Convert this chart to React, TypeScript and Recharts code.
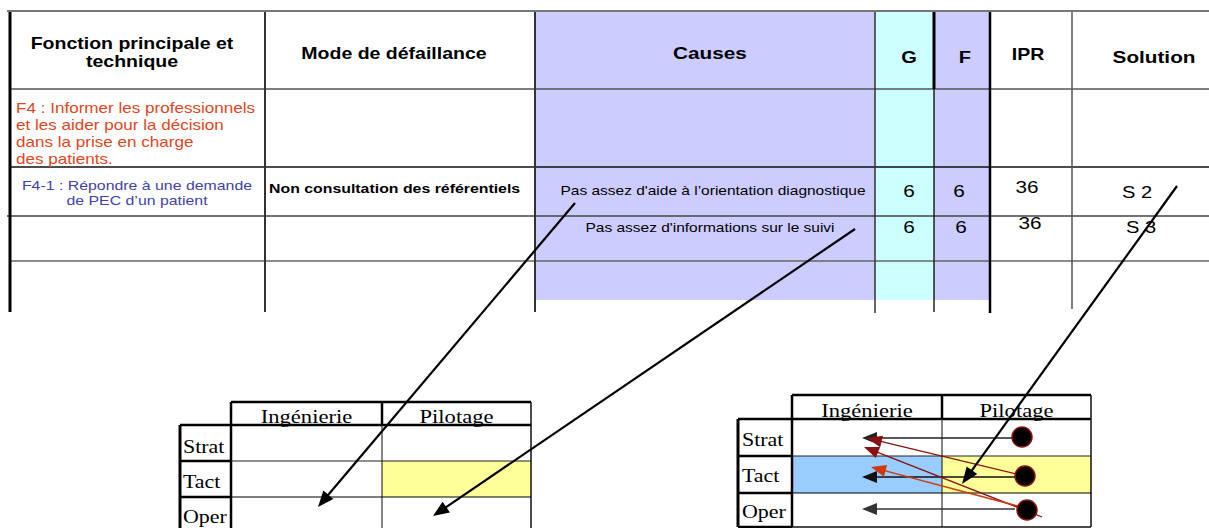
import { ComposedChart, XAxis, YAxis, Scatter, ReferenceArea, ReferenceLine, ReferenceDot } from "recharts";

// --- contenu du tableau AMDEC ---
const entetes = ["Fonction principale et\ntechnique", "Mode de défaillance", "Causes", "G", "F", "IPR", "Solution"];
const fonction = ["F4 : Informer les professionnels", "et les aider pour la décision", "dans la prise en charge", "des patients."];
const sousFonction = ["F4-1 : Répondre à une demande", "de PEC d’un patient"];
const modes = ["Non consultation des référentiels"];
const causes = ["Pas assez d'aide à l’orientation diagnostique", "Pas assez d'informations sur le suivi"];
const gravite = [6, 6];
const frequence = [6, 6];
const ipr = [36, 36];
const solutions = ["S 2", "S 3"];

// --- matrices ---
const niveaux = ["Strat", "Tact", "Oper"];
const axesMatrice = ["Ingénierie", "Pilotage"];
const casesGauche = [["Tact", "Pilotage"]];
const casesDroite = [["Tact", "Ingénierie"], ["Tact", "Pilotage"]];

// --- mise en page (pixels) ---
const W = 1209;
const H = 528;
const SANS = "'Liberation Sans', Arial, Helvetica, sans-serif";
const SERIF = "'Liberation Serif', 'Times New Roman', serif";
const colX = [10, 265, 535, 875, 934, 990, 1072, 1209];
const enteteAncre = [[132, 49], [394, 59], [710, 59], [909, 63], [965, 63], [1028, 60], [1154, 63]];
const enteteTaille = [16, 16, 17, 16.5, 16.5, 16, 17];

type Mat = { x: number[]; y: number[]; labelY: number[]; headY: number; labelX: number };
const matG: Mat = { x: [180, 231, 382, 531], y: [402, 425, 461, 497, 533], labelY: [453, 488, 523], headY: 423, labelX: 183 };
const matD: Mat = { x: [738, 792, 942, 1091], y: [395, 419, 456, 493, 527], labelY: [446, 482, 518], headY: 417, labelX: 742 };
const couleurAxe: Record<string, string> = { "Ingénierie": "#99ccff", "Pilotage": "#ffff99" };
const dotX = [1022, 1025, 1027];
const dotY = [437, 476, 510];

type Seg = [number, number, number, number, number, string];
const lignesTableau: Seg[] = [
  [7, 11, 1209, 11, 2, "#777"],
  [10, 89, 1209, 89, 1.5, "#555"],
  [10, 167, 1209, 167, 1.5, "#111"],
  [7, 216, 1209, 216, 1.5, "#444"],
  [10, 261, 1209, 261, 1.5, "#666"],
  [10, 12, 10, 312, 3, "#000"],
  [265, 12, 265, 312, 2, "#333"],
  [535, 12, 535, 312, 2, "#333"],
  [875, 12, 875, 313, 1.5, "#333"],
  [934, 12, 934, 89, 3, "#000"],
  [934, 89, 934, 312, 1.5, "#222"],
  [990, 12, 990, 313, 2.5, "#000"],
  [1072, 12, 1072, 309, 1.5, "#555"],
];

type Arrow = [number, number, number, number, string, number, number, number];
const fleches: Arrow[] = [
  [575, 203, 318, 507, "#000", 2.2, 16, 6.5],
  [855, 229, 433, 516, "#000", 2.2, 16, 6.5],
  [1015, 438, 862, 438, "#222", 1.3, 15, 6],
  [1015, 477, 862, 477, "#111", 1.3, 15, 6],
  [1015, 509, 862, 509, "#333", 1.3, 15, 6],
  [1025, 476, 867, 438, "#8b1010", 1.3, 15, 6],
  [1042, 517, 864, 447, "#8b1010", 1.3, 15, 6],
  [1025, 508, 871, 467, "#d03a10", 1.5, 15, 6],
  [1177, 186, 962, 484, "#000", 2.2, 17, 6.5],
];

type TextSpec = { x: number; y: number; text: string; size: number; bold?: boolean; color?: string; anchor?: "start" | "middle" | "end"; serif?: boolean };

function txt(t: TextSpec, key: string) {
  const sx = t.serif ? 1.22 : 1.22;
  return (
    <ReferenceDot
      key={key}
      x={t.x}
      y={t.y}
      r={0}
      ifOverflow="visible"
      shape={(p: any) => (
        <text
          transform={`translate(${p.cx} ${p.cy}) scale(${sx} 1)`}
          textAnchor={t.anchor ?? "middle"}
          fontFamily={t.serif ? SERIF : SANS}
          fontSize={t.size}
          fontWeight={t.bold ? 700 : 400}
          fill={t.color ?? "#000"}
        >
          {t.text}
        </text>
      )}
    />
  );
}

function seg(s: Seg, key: string) {
  const [x1, y1, x2, y2, w, c] = s;
  return <ReferenceLine key={key} segment={[{ x: x1, y: y1 }, { x: x2, y: y2 }]} stroke={c} strokeWidth={w} ifOverflow="visible" />;
}

function fleche(a: Arrow, key: string) {
  const [x1, y1, x2, y2, color, w, L, hw] = a;
  return (
    <ReferenceLine
      key={key}
      segment={[{ x: x1, y: y1 }, { x: x2, y: y2 }]}
      ifOverflow="visible"
      shape={(p: any) => {
        const dx = p.x2 - p.x1;
        const dy = p.y2 - p.y1;
        const len = Math.hypot(dx, dy);
        const ux = dx / len;
        const uy = dy / len;
        const bx = p.x2 - ux * L;
        const by = p.y2 - uy * L;
        return (
          <g>
            <line x1={p.x1} y1={p.y1} x2={bx + ux} y2={by + uy} stroke={color} strokeWidth={w} />
            <polygon points={`${p.x2},${p.y2} ${bx - uy * hw},${by + ux * hw} ${bx + uy * hw},${by - ux * hw}`} fill={color} />
          </g>
        );
      }}
    />
  );
}

function matrice(m: Mat, cases: string[][], id: string, withBottom: boolean) {
  const [l, c1, c2, c3] = m.x;
  const [top, hb, r1, r2, bot] = m.y;
  const yEnd = Math.min(bot, H);
  const els: any[] = [];
  cases.forEach(([niv, axe], i) => {
    const r = niveaux.indexOf(niv);
    const c = axesMatrice.indexOf(axe);
    els.push(
      <ReferenceArea key={`${id}f${i}`} x1={m.x[c + 1]} x2={m.x[c + 2]} y1={m.y[r + 1]} y2={m.y[r + 2]} fill={couleurAxe[axe]} fillOpacity={1} stroke="none" ifOverflow="visible" />
    );
  });
  const lines: Seg[] = [
    [c1, top, c3, top, 2.5, "#000"],
    [l, hb, c3, hb, 2.5, "#000"],
    [c1, top, c1, yEnd, 2.5, "#000"],
    [l, hb, l, yEnd, 3, "#000"],
    [c2, top, c2, hb, 2.5, "#000"],
    [c2, hb, c2, yEnd, 1.2, "#333"],
    [c3, top, c3, yEnd, 1.5, "#111"],
    [l, r1, c1, r1, 2.5, "#000"],
    [l, r2, c1, r2, 2.5, "#000"],
    [c1, r1, c3, r1, 1.2, "#222"],
    [c1, r2, c3, r2, 1.2, "#000"],
  ];
  if (withBottom) {
    lines.push([l, bot, c1, bot, 2.5, "#000"]);
    lines.push([c1, bot, c3, bot, 1.5, "#111"]);
  }
  lines.forEach((s, i) => els.push(seg(s, `${id}l${i}`)));
  axesMatrice.forEach((a, i) => els.push(txt({ x: (m.x[i + 1] + m.x[i + 2]) / 2, y: m.headY, text: a, size: 18.5, serif: true }, `${id}h${i}`)));
  niveaux.forEach((n, i) => els.push(txt({ x: m.labelX, y: m.labelY[i], text: n, size: 18, serif: true, anchor: "start" }, `${id}n${i}`)));
  return els;
}

const points = niveaux.map((niveau, i) => ({ niveau, x: dotX[i], y: dotY[i] }));

export default function App() {
  const num = { size: 17 };
  return (
    <div style={{ position: "absolute", left: 0, top: 0, width: W, height: H, background: "#fff" }}>
      <ComposedChart width={W} height={H} margin={{ top: 0, right: 0, bottom: 0, left: 0 }}>
        <XAxis type="number" dataKey="x" domain={[0, W]} allowDataOverflow hide />
        <YAxis type="number" dataKey="y" domain={[0, H]} allowDataOverflow reversed hide />

        <ReferenceArea x1={colX[2]} x2={colX[3]} y1={12} y2={300} fill="#ccccff" fillOpacity={1} stroke="none" ifOverflow="visible" />
        <ReferenceArea x1={colX[3]} x2={colX[4]} y1={12} y2={300} fill="#ccffff" fillOpacity={1} stroke="none" ifOverflow="visible" />
        <ReferenceArea x1={colX[4]} x2={colX[5]} y1={12} y2={300} fill="#ccccff" fillOpacity={1} stroke="none" ifOverflow="visible" />

        {lignesTableau.map((s, i) => seg(s, `t${i}`))}

        {entetes.flatMap((h, i) =>
          h.split("\n").map((line, j) =>
            txt({ x: enteteAncre[i][0], y: enteteAncre[i][1] + j * 18, text: line, size: enteteTaille[i], bold: true }, `h${i}-${j}`)
          )
        )}

        {fonction.map((f, i) => txt({ x: 16, y: 113 + i * 17, text: f, size: 14, color: "#e2461c", anchor: "start" }, `f${i}`))}
        {sousFonction.map((f, i) => txt({ x: 137, y: 190 + i * 15, text: f, size: 13, color: "#4242aa" }, `sf${i}`))}
        {modes.map((m, i) => txt({ x: 269, y: 193, text: m, size: 13, bold: true, anchor: "start" }, `m${i}`))}

        {causes.map((c, i) => txt({ x: [713, 710][i], y: [195, 232][i], text: c, size: 12.7 }, `c${i}`))}
        {gravite.map((v, i) => txt({ x: 909, y: [197, 233][i], text: String(v), ...num }, `g${i}`))}
        {frequence.map((v, i) => txt({ x: [959, 961][i], y: [197, 233][i], text: String(v), ...num }, `fr${i}`))}
        {ipr.map((v, i) => txt({ x: [1027, 1030][i], y: [193, 229][i], text: String(v), ...num }, `i${i}`))}
        {solutions.map((s, i) => txt({ x: [1137, 1141][i], y: [198, 233][i], text: s, size: 16.5 }, `s${i}`))}

        {matrice(matG, casesGauche, "mg", false)}
        {matrice(matD, casesDroite, "md", true)}

        <Scatter
          data={points}
          isAnimationActive={false}
          shape={(p: any) => <circle cx={p.cx} cy={p.cy} r={10} fill="#000" stroke="#8b1010" strokeWidth={1.5} />}
        />

        {fleches.map((a, i) => fleche(a, `a${i}`))}
      </ComposedChart>
    </div>
  );
}
